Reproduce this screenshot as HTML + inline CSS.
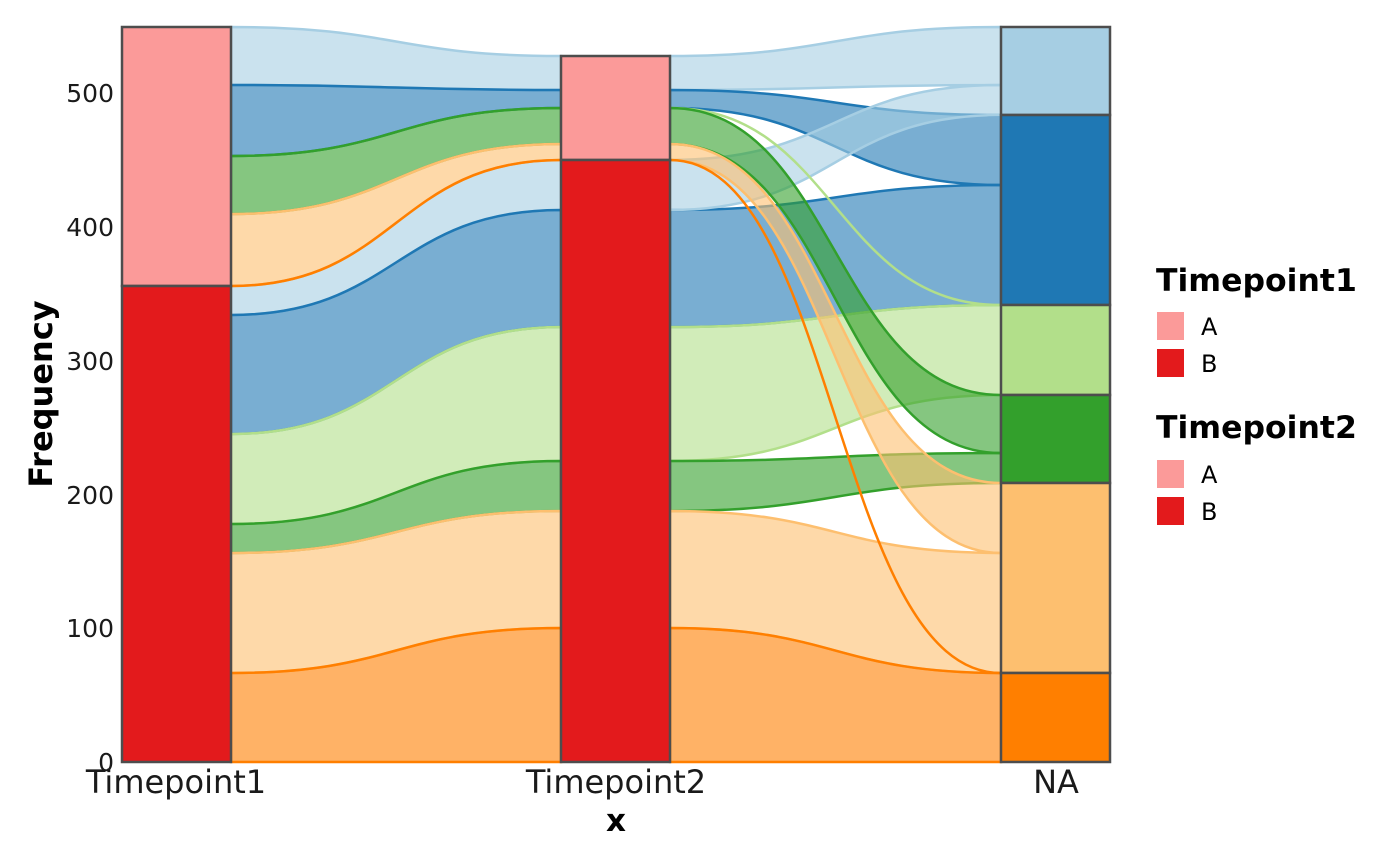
<!DOCTYPE html>
<html><head><meta charset="utf-8"><style>
html,body{margin:0;padding:0;background:#fff;}
svg{display:block;font-family:"DejaVu Sans","Liberation Sans",sans-serif;}
</style></head><body>
<svg width="1400" height="866" viewBox="0 0 1400 866" xmlns="http://www.w3.org/2000/svg">
<g stroke-width="2.5" fill-opacity="0.6">
<path d="M231 27 C396 27 396 56 561 56 L561 90 C396 90 396 85 231 85Z" fill="#A6CEE3" stroke="#A6CEE3"/>
<path d="M231 286 C396 286 396 160 561 160 L561 210 C396 210 396 315 231 315Z" fill="#A6CEE3" stroke="#A6CEE3"/>
<path d="M231 85 C396 85 396 90 561 90 L561 108 C396 108 396 156 231 156Z" fill="#1F78B4" stroke="#1F78B4"/>
<path d="M231 315 C396 315 396 210 561 210 L561 327 C396 327 396 434 231 434Z" fill="#1F78B4" stroke="#1F78B4"/>
<path d="M231 434 C396 434 396 327 561 327 L561 461 C396 461 396 524 231 524Z" fill="#B2DF8A" stroke="#B2DF8A"/>
<path d="M231 156 C396 156 396 108 561 108 L561 144 C396 144 396 214 231 214Z" fill="#33A02C" stroke="#33A02C"/>
<path d="M231 524 C396 524 396 461 561 461 L561 511 C396 511 396 553 231 553Z" fill="#33A02C" stroke="#33A02C"/>
<path d="M231 214 C396 214 396 144 561 144 L561 160 C396 160 396 286 231 286Z" fill="#FDBF6F" stroke="#FDBF6F"/>
<path d="M231 553 C396 553 396 511 561 511 L561 628 C396 628 396 673 231 673Z" fill="#FDBF6F" stroke="#FDBF6F"/>
<path d="M231 286 C396 286 396 160 561 160" fill="none" stroke="#FF7F00"/>
<path d="M231 673 C396 673 396 628 561 628 L561 762 L231 762Z" fill="#FF7F00" stroke="#FF7F00"/>
<path d="M670 56 C835 56 835 27 1001 27 L1001 85 C835 85 835 90 670 90Z" fill="#A6CEE3" stroke="#A6CEE3"/>
<path d="M670 90 C835 90 835 115 1001 115 L1001 185 C835 185 835 108 670 108Z" fill="#1F78B4" stroke="#1F78B4"/>
<path d="M670 210 C835 210 835 185 1001 185 L1001 305 C835 305 835 327 670 327Z" fill="#1F78B4" stroke="#1F78B4"/>
<path d="M670 160 C835 160 835 85 1001 85 L1001 115 C835 115 835 210 670 210Z" fill="#A6CEE3" stroke="#A6CEE3"/>
<path d="M670 327 C835 327 835 305 1001 305 L1001 395 C835 395 835 461 670 461Z" fill="#B2DF8A" stroke="#B2DF8A"/>
<path d="M670 108 C835 108 835 305 1001 305" fill="none" stroke="#B2DF8A"/>
<path d="M670 108 C835 108 835 395 1001 395 L1001 453 C835 453 835 144 670 144Z" fill="#33A02C" stroke="#33A02C"/>
<path d="M670 461 C835 461 835 453 1001 453 L1001 483 C835 483 835 511 670 511Z" fill="#33A02C" stroke="#33A02C"/>
<path d="M670 144 C835 144 835 483 1001 483 L1001 553 C835 553 835 160 670 160Z" fill="#FDBF6F" stroke="#FDBF6F"/>
<path d="M670 511 C835 511 835 553 1001 553 L1001 673 C835 673 835 628 670 628Z" fill="#FDBF6F" stroke="#FDBF6F"/>
<path d="M670 628 C835 628 835 673 1001 673 L1001 762 L670 762Z" fill="#FF7F00" stroke="#FF7F00"/>
<path d="M670 160 C835 160 835 673 1001 673" fill="none" stroke="#FF7F00"/>
</g>
<g stroke="#4d4d4d" stroke-width="2.5">
<rect x="122" y="27" width="109" height="259" fill="#FB9A99"/>
<rect x="122" y="286" width="109" height="476" fill="#E31A1C"/>
<rect x="561" y="56" width="109" height="104" fill="#FB9A99"/>
<rect x="561" y="160" width="109" height="602" fill="#E31A1C"/>
<rect x="1001" y="27" width="109" height="88" fill="#A6CEE3"/>
<rect x="1001" y="115" width="109" height="190" fill="#1F78B4"/>
<rect x="1001" y="305" width="109" height="90" fill="#B2DF8A"/>
<rect x="1001" y="395" width="109" height="88" fill="#33A02C"/>
<rect x="1001" y="483" width="109" height="190" fill="#FDBF6F"/>
<rect x="1001" y="673" width="109" height="89" fill="#FF7F00"/>
</g>
<g font-size="25" fill="#1a1a1a" text-anchor="end">
<text x="114" y="771">0</text>
<text x="114" y="637">100</text>
<text x="114" y="504">200</text>
<text x="114" y="370">300</text>
<text x="114" y="236">400</text>
<text x="114" y="102">500</text>
</g>
<g font-size="32" fill="#1a1a1a" text-anchor="middle">
<text x="176" y="793">Timepoint1</text>
<text x="616" y="793">Timepoint2</text>
<text x="1056" y="793">NA</text>
</g>
<text x="616" y="831" font-size="31" font-weight="bold" text-anchor="middle">x</text>
<text transform="translate(52,394) rotate(-90)" font-size="32" font-weight="bold" text-anchor="middle">Frequency</text>
<text x="1156" y="291" font-size="31.5" font-weight="bold">Timepoint1</text>
<rect x="1157" y="312" width="27" height="28" fill="#FB9A99"/>
<rect x="1157" y="349" width="27" height="28" fill="#E31A1C"/>
<text x="1201" y="335" font-size="24">A</text>
<text x="1201" y="372" font-size="24">B</text>
<text x="1156" y="438" font-size="31.5" font-weight="bold">Timepoint2</text>
<rect x="1157" y="460" width="27" height="28" fill="#FB9A99"/>
<rect x="1157" y="497" width="27" height="28" fill="#E31A1C"/>
<text x="1201" y="483" font-size="24">A</text>
<text x="1201" y="520" font-size="24">B</text>
</svg>
</body></html>
